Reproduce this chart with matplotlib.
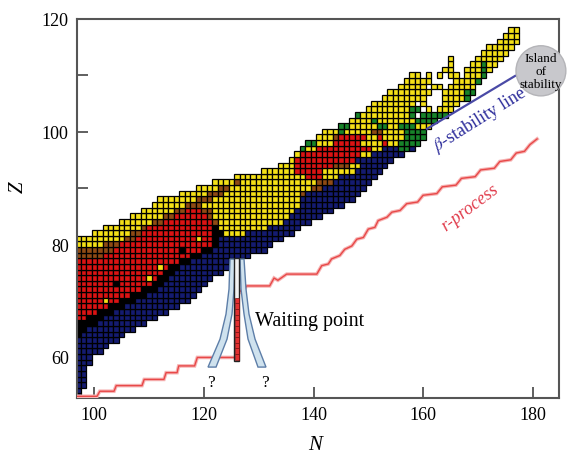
import re
import matplotlib
matplotlib.use("Agg")
import matplotlib.pyplot as plt
from matplotlib.patches import Ellipse, Polygon, Rectangle

# ---------------- data ----------------
# nuclide rows: proton number Z, first neutron number, run-length coded cells
# Y: yellow, R: red, D: mixed/dark, K: black, B: blue, G: green, '.': empty
row_z = list(range(53, 119))
row_n0 = [96, 96, 96, 96, 96, 96, 96, 96, 96, 96,
          96, 96, 96, 96, 96, 96, 96, 96, 96, 96,
          96, 96, 96, 96, 96, 96, 96, 96, 96, 100,
          102, 105, 107, 109, 111, 112, 116, 119, 122, 126,
          131, 134, 136, 137, 138, 139, 141, 142, 145, 147,
          148, 150, 151, 153, 154, 156, 157, 158, 164, 165,
          165, 171, 172, 174, 175, 176]
row_runs = ["B2", "B2", "B3", "B3", "B3", "B3", "B4", "B4", "B6", "B7",
            "B9", "K2B8", "K3B9", "R1K4B9", "R3K3B10", "R5K3B10", "R7K3B10",
            "R9K3B10", "R11K3B9", "R13K3B8", "R15K2B8", "R16K2B8", "R17K2B9",
            "R18K2B9", "R20K2B9", "D6R16K2B9", "D8R16K2B10", "Y6D3R17K1B10",
            "Y10D2R14K1B12", "Y7D2R13K2Y4B9", "Y7D1R12K1Y9B6", "Y6D2R9D1Y12B5",
            "Y6D2R6D1Y14B6", "Y6D2R3D2Y15B7", "Y6D3Y18B8", "Y7D3Y16B10",
            "Y5D3Y14D1B10", "Y4D2Y15D2B8", "Y4D1Y14D3B7", "Y13R3Y3B7",
            "Y6R5Y6B5", "Y3R7D3Y2B5", "Y1R11B7", "Y1R11Y2B6",
            "G1Y2R10Y2B3G2B1", "G2Y3R5Y4R1Y2G4", "Y3D1R5Y2R1Y4G4",
            "Y3G1Y5D2Y4G4", "G2Y5G2Y2G3Y3", "Y4G1Y7G4", "G1Y9G1.1G5",
            "Y8G2.1Y1.1Y3", "Y8.1Y1.3Y3", "Y8.3Y4G1", "Y8.2Y4G2",
            "Y5.1Y2.1Y5", "Y5.4Y4G1", "Y2.1Y1.1Y1.1Y2.1Y3G1", "Y2.2Y3G1Y1",
            "Y1.3Y2G1Y2", "Y1.4Y5", "Y5", "Y5", "Y4", "Y3", "Y2"]

# isolated speckles inside the bands
spk_n = [102, 110, 112, 116, 104, 119]
spk_z = [70, 74, 76, 79, 73, 81]
spk_c = ["Y", "Y", "Y", "K", "K", "Y"]

# waiting point column (N = 126) filled cells
wait_n = 126
wait_z = [60, 61, 62, 63, 64, 65, 66, 67, 68, 69, 70]

# r-process path (N, Z)
rp_n = [96.8, 100.5, 101.0, 101.5, 103.6, 104.0, 104.5, 108.7, 109.1, 109.6,
        112.7, 113.1, 113.6, 115.1, 115.4, 115.8, 118.3, 118.8, 119.3, 126.0,
        126.0, 126.6, 127.0, 127.8, 132.0, 132.8, 133.5, 135.1, 140.6,
        141.5, 142.7, 143.3, 144.8, 145.7, 147.0, 147.9, 149.1, 150.0, 151.2,
        151.8, 153.4, 154.3, 155.8, 157.0, 159.0, 160.0, 162.5, 163.5, 166.0,
        167.0, 169.5, 170.5, 173.0, 174.0, 176.0, 177.0, 178.5, 179.5, 180.8]
rp_z = [53.0, 53.0, 53.9, 53.9, 53.9, 54.9, 54.9, 54.9, 56.0, 56.0,
        56.0, 57.2, 57.2, 57.2, 58.4, 58.4, 58.4, 59.9, 59.9, 59.9,
        70.5, 71.8, 71.4, 72.6, 72.6, 74.0, 73.6, 74.7, 74.7,
        76.2, 76.5, 77.4, 78.0, 79.1, 79.7, 80.9, 81.2, 82.7, 83.0,
        84.2, 84.8, 85.7, 86.0, 87.2, 87.5, 88.7, 89.0, 90.2, 90.5,
        91.7, 92.0, 93.2, 93.5, 94.7, 95.0, 96.2, 96.5, 97.7, 98.7]

# beta-stability line end points (N, Z)
beta_n = [160.7, 176.8]
beta_z = [100.5, 109.9]

colors = {"Y": "#f4e017", "R": "#da1313", "D": "#8e4a14", "K": "#000000",
          "B": "#141b70", "G": "#17832a"}

serif = ["Liberation Serif", "DejaVu Serif"]
plt.rcParams["font.family"] = serif
plt.rcParams["mathtext.fontset"] = "stix"

fig = plt.figure(figsize=(5.68, 4.56), dpi=100)
ax = fig.add_axes([77 / 568, 57 / 456, 482 / 568, 379 / 456])

# cells
cx, cz, cc = [], [], []
for z, n0, runs in zip(row_z, row_n0, row_runs):
    n = n0
    for code, cnt in re.findall(r"([YRDKBG.])(\d+)", runs):
        for _ in range(int(cnt)):
            if code != ".":
                cx.append(n)
                cz.append(z)
                cc.append(colors[code])
            n += 1
for n, z, c in zip(spk_n, spk_z, spk_c):
    cx.append(n)
    cz.append(z)
    cc.append(colors[c])
ax.bar(cx, [1] * len(cx), width=1, bottom=[z - 0.5 for z in cz], color=cc,
       edgecolor="black", linewidth=0.9, zorder=2)

# funnels
left_band = [(124.76, 77.37), (124.58, 72.04), (124.03, 67.6), (122.94, 63.16),
             (120.75, 58.19), (122.21, 58.19), (124.22, 63.16), (125.13, 67.6),
             (125.49, 72.04), (125.67, 77.37)]
right_band = [(127.32, 77.37), (127.68, 72.04), (128.23, 67.6), (129.33, 63.16),
              (131.33, 58.19), (129.87, 58.19), (128.05, 63.16), (127.32, 67.6),
              (126.77, 72.04), (126.59, 77.37)]
for pts in (left_band, right_band):
    ax.add_patch(Polygon(pts, closed=True, facecolor="#cfe2ee",
                         edgecolor="#5d7ea8", linewidth=1.0, zorder=4))
# waiting point column
ax.add_patch(Rectangle((wait_n - 0.45, 59.2), 0.9, 18.3, facecolor="#f2f2f2",
                       edgecolor="#222222", linewidth=1.0, zorder=5))
ax.bar([wait_n] * len(wait_z), [1] * len(wait_z), width=0.7,
       bottom=[z - 0.5 for z in wait_z], color="#e33030", edgecolor="#7a1010",
       linewidth=0.5, zorder=6)

# r-process
ax.plot(rp_n, rp_z, color="#f6b4b4", lw=2.6, zorder=3, solid_joinstyle="miter")
ax.plot(rp_n, rp_z, color="#e84848", lw=1.0, zorder=3.1)

# beta stability line
ax.plot(beta_n, beta_z, color="#4a4aa6", lw=1.6, zorder=3)
ax.text(170.3, 102.2, r"$\beta$-stability line", rotation=32, color="#2a2a9a",
        fontsize=13, ha="center", va="center", zorder=7)
ax.text(168.6, 86.6, "r-process", rotation=37, color="#e03a4a", fontsize=13,
        style="italic", ha="center", va="center", zorder=7)

# island of stability
ax.add_patch(Ellipse((181.5, 110.8), 9.1, 8.9, facecolor="#c8c8cc",
                     edgecolor="#b4b4b8", linewidth=1.0, clip_on=False, zorder=8))
ax.text(181.5, 110.8, "Island\nof\nstability", ha="center", va="center",
        fontsize=9.5, linespacing=1.1, zorder=9, clip_on=False)

ax.text(129.3, 66.4, "Waiting point", fontsize=14.5, ha="left", va="center",
        zorder=7)
ax.text(121.3, 55.5, "?", fontsize=12.5, ha="center", va="center", zorder=7)
ax.text(131.2, 55.5, "?", fontsize=12.5, ha="center", va="center", zorder=7)

ax.set_xlim(96.84, 184.8)
ax.set_ylim(52.7, 120)
ax.set_xticks([100, 120, 140, 160, 180])
ax.set_yticks([60, 80, 100, 120])
ax.set_yticks([70, 90, 110], minor=True)
ax.tick_params(which="both", direction="in", length=8, width=1.2,
               labelsize=13, color="#444444", pad=6)
for s in ax.spines.values():
    s.set_color("#555555")
    s.set_linewidth(1.5)
ax.set_xlabel("N", fontsize=15, style="italic")
ax.set_ylabel("Z", fontsize=15, style="italic")
ax.xaxis.set_label_coords(0.494, -0.098)
ax.yaxis.set_label_coords(-0.102, 0.559)

fig.savefig("out.png", dpi=100)
